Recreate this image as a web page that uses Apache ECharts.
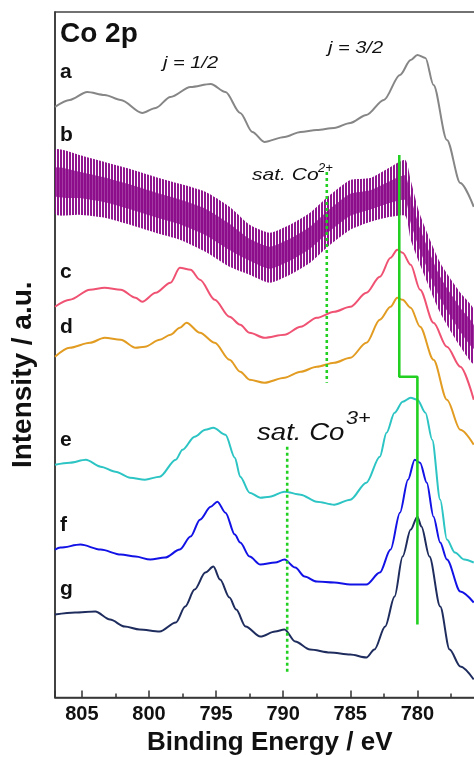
<!DOCTYPE html>
<html><head><meta charset="utf-8">
<script src="https://cdn.jsdelivr.net/npm/echarts@6/dist/echarts.min.js"></script>
<style>html,body{margin:0;padding:0;background:#fff}#c{width:474px;height:757px}</style>
</head><body><div id="c"></div><script>
// Binding energy (eV) / intensity (a.u., stacked offsets)
const curveA = [[807.0,591],[805.9,598],[804.6,606],[803.3,603],[802.1,598],[800.5,585],[799.5,590],[798.4,601],[796.9,611],[795.4,614],[794.3,606],[793.2,585],[792.3,566],[791.4,556],[789.9,561],[788.7,566],[787.5,568],[786.2,570],[785.0,575],[783.8,583],[782.5,598],[781.3,623],[780.5,638],[780.0,643],[779.4,640],[778.8,613],[777.8,558],[776.8,515],[775.8,491]];
// curve b is very noisy: its lower and upper envelope
const bEnergy = [807.0,805.2,803.3,801.4,799.5,797.7,795.8,794.0,792.5,791.0,789.5,788.0,786.5,785.0,783.5,782.0,780.9,780.5,779.8,778.3,776.8,775.8];
const bLow  = [484,483,480,473,465,458,446,431,423,415,423,435,453,468,476,481,482,458,433,385,351,334];
const bHigh = [548,543,536,529,521,514,506,491,473,465,473,485,503,518,520,531,538,518,483,435,405,388];
const curveC = [[807.0,391],[805.9,398],[804.4,408],[803.3,410],[802.1,408],[801.0,400],[800.5,396],[799.5,405],[798.4,415],[797.7,430],[796.9,428],[796.2,418],[795.1,398],[794.0,381],[793.2,373],[792.5,365],[791.4,360],[789.9,363],[788.7,371],[787.5,380],[786.2,386],[785.0,391],[783.8,405],[782.8,421],[782.0,440],[781.5,448],[781.1,445],[780.5,433],[779.8,408],[778.8,375],[777.8,351],[776.8,331],[775.8,298]];
const curveD = [[807.0,341],[805.9,350],[804.4,355],[803.3,360],[802.1,358],[801.0,350],[800.3,351],[799.2,358],[798.4,363],[797.7,370],[797.2,375],[796.2,365],[795.1,355],[794.0,338],[793.2,326],[792.5,318],[791.4,315],[789.9,320],[788.7,326],[787.5,331],[786.2,335],[785.0,340],[783.8,355],[782.8,378],[782.0,391],[781.5,400],[781.1,398],[780.5,390],[779.8,371],[778.8,338],[777.8,298],[776.8,268],[775.8,253]];
const curveE = [[807.0,233],[805.9,235],[804.7,238],[803.6,231],[802.5,226],[801.4,220],[800.3,218],[799.2,221],[798.0,238],[797.5,248],[796.6,261],[795.8,268],[795.2,270],[794.3,263],[793.6,240],[793.2,221],[792.5,205],[791.7,200],[791.0,201],[789.9,206],[788.7,203],[787.5,196],[786.2,193],[785.0,198],[783.8,215],[782.8,241],[782.3,265],[781.7,285],[781.1,296],[780.5,300],[780.0,298],[779.4,285],[778.9,258],[778.3,198],[777.8,158],[777.2,145],[776.5,138],[775.8,135]];
const curveF = [[807.0,148],[806.6,150],[805.1,153],[803.6,148],[802.1,143],[801.0,141],[799.9,138],[798.8,140],[797.7,148],[796.9,161],[796.2,178],[795.4,191],[794.9,196],[794.3,185],[793.6,163],[793.2,155],[792.5,141],[791.7,133],[790.6,135],[789.9,138],[789.1,130],[788.4,121],[787.5,116],[786.2,115],[785.0,113],[783.8,113],[782.8,125],[782.0,148],[781.3,185],[780.7,218],[780.2,238],[779.8,235],[779.3,215],[778.8,181],[778.3,155],[777.8,138],[776.8,106],[775.8,95]];
const curveG = [[807.0,83],[805.5,85],[804.0,86],[802.9,78],[801.8,71],[800.7,68],[799.2,66],[798.0,75],[797.3,91],[796.6,108],[795.8,125],[795.2,131],[794.7,118],[794.0,100],[793.5,88],[792.8,71],[791.7,61],[790.6,66],[789.9,68],[789.1,56],[788.0,48],[786.5,45],[785.0,43],[783.8,40],[783.2,48],[782.4,71],[781.7,101],[781.1,141],[780.5,168],[780.0,181],[779.7,171],[779.1,141],[778.3,91],[777.6,48],[776.8,31],[775.8,18]];
const greenShift = [[781.35,543],[781.35,321],[780.0,321],[780.0,73]];
const satCo2Line = [[786.75,526],[786.75,315]];
const satCo3Line = [[789.7,251],[789.7,24]];
const curveNames = ['a','b','c','d','e','f','g'];

const FONT = 'Arial, "Liberation Sans", sans-serif';
const chart = echarts.init(document.getElementById('c'), null, {renderer:'canvas'});

// vertical-stripe texture for the noisy band of curve b
const tex = document.createElement('canvas');
tex.width = 3; tex.height = 4;
const tctx = tex.getContext('2d');
tctx.fillStyle = '#8B0A8B';
tctx.fillRect(0, 0, 2, 4);

function curve(name, data, color){
  return {type:'line', name, data, symbol:'none', smooth:0.3, smoothMonotone:'x',
    lineStyle:{color, width:2}, itemStyle:{color}, z:3};
}
function txt(text, x, y, font, extra){
  return Object.assign({type:'text', x, y, z:50,
    style:{text, font, fill:'#111', textAlign:'left', textVerticalAlign:'middle', align:'left', verticalAlign:'middle'}}, extra||{});
}

const letterY = [72.7,135.7,272.7,327.7,440.7,525.7,589.7];

const option = {
  animation:false,
  backgroundColor:'#fff',
  grid:{left:55, top:12, right:-10.5, bottom:59.5, show:true, borderColor:'#444', borderWidth:1.3, outerBoundsMode:'none', containLabel:false},
  xAxis:[{
    type:'value', min:775, max:807, inverse:true, interval:5,
    name:'Binding Energy / eV', nameLocation:'middle', nameGap:32,
    nameTextStyle:{fontSize:26, fontWeight:'bold', fontFamily:FONT, color:'#111'},
    axisLine:{show:true, lineStyle:{color:'#333', width:1.6}},
    axisTick:{show:true, inside:true, length:7, lineStyle:{color:'#333', width:1.5}},
    axisLabel:{fontSize:20, fontWeight:'bold', fontFamily:FONT, color:'#111', margin:7,
      formatter:v => (v >= 780 && v <= 805 && v % 5 === 0) ? String(v) : ''},
    splitLine:{show:false}
  },{
    type:'value', min:775, max:807, inverse:true, interval:2.5, position:'bottom', gridIndex:0,
    axisLine:{show:false}, axisLabel:{show:false}, splitLine:{show:false},
    axisTick:{show:true, inside:true, length:4, lineStyle:{color:'#333', width:1.5}}
  }],
  yAxis:{
    type:'value', min:0, max:686,
    name:'Intensity / a.u.', nameLocation:'middle', nameRotate:90, nameGap:17.6,
    nameTextStyle:{fontSize:28, fontWeight:'bold', fontFamily:FONT, color:'#111', padding:[0,40,0,0]},
    axisLine:{show:true, lineStyle:{color:'#333', width:1.6}},
    axisTick:{show:false}, axisLabel:{show:false}, splitLine:{show:false}
  },
  series:[
    curve(curveNames[0], curveA, '#868686'),
    {type:'custom', name:curveNames[1], coordinateSystem:'cartesian2d', xAxisIndex:0, yAxisIndex:0,
      data:[[bEnergy[0], bLow[0]]], encode:{x:0, y:1}, z:2, clip:true,
      renderItem:(params, api) => {
        const upper = bEnergy.map((e,i) => api.coord([e, bHigh[i]]));
        const lower = bEnergy.map((e,i) => api.coord([e, bLow[i]])).reverse();
        // denser core of the noise band: the middle half of the envelope
        const coreUp = bEnergy.map((e,i) => api.coord([e, bLow[i] + 0.72*(bHigh[i]-bLow[i])]));
        const coreLo = bEnergy.map((e,i) => api.coord([e, bLow[i] + 0.28*(bHigh[i]-bLow[i])])).reverse();
        return {type:'group', children:[
          {type:'polygon', shape:{points:upper.concat(lower), smooth:0.2},
            style:{fill:{image:tex, repeat:'repeat'}, opacity:0.95}},
          {type:'polygon', shape:{points:coreUp.concat(coreLo), smooth:0.2},
            style:{fill:'#8B0A8B', opacity:0.8}}
        ]};
      }},
    curve(curveNames[2], curveC, '#EF5272'),
    curve(curveNames[3], curveD, '#E29C22'),
    curve(curveNames[4], curveE, '#2DC4C4'),
    curve(curveNames[5], curveF, '#1212E6'),
    curve(curveNames[6], curveG, '#1F2D5E'),
    {type:'line', name:'shift', data:greenShift, symbol:'none', lineStyle:{color:'#22D022', width:2.6}, z:5},
    {type:'line', name:'satCo2', data:satCo2Line, symbol:'none', lineStyle:{color:'#22D022', width:2.6, type:[3,3]}, z:5},
    {type:'line', name:'satCo3', data:satCo3Line, symbol:'none', lineStyle:{color:'#22D022', width:2.6, type:[3,3]}, z:5}
  ],
  graphic:[
    txt('Co 2p', 60, 34.3, 'bold 28px '+FONT),
    ...curveNames.map((n,i)=>txt(n, 60, letterY[i], 'bold 21px '+FONT)),
    txt('j = 1/2', 163, 63.8, 'italic 16px '+FONT, {scaleX:1.25}),
    txt('j = 3/2', 328, 48.5, 'italic 16px '+FONT, {scaleX:1.25}),
    txt('sat. Co', 252, 174.8, 'italic 17px '+FONT, {scaleX:1.24}),
    txt('2+', 318, 168.8, 'italic 13px '+FONT),
    txt('sat. Co', 257, 433.7, 'italic 23px '+FONT, {scaleX:1.2}),
    txt('3+', 346, 418.8, 'italic 18px '+FONT, {scaleX:1.2})
  ]
};
chart.setOption(option);
</script></body></html>
